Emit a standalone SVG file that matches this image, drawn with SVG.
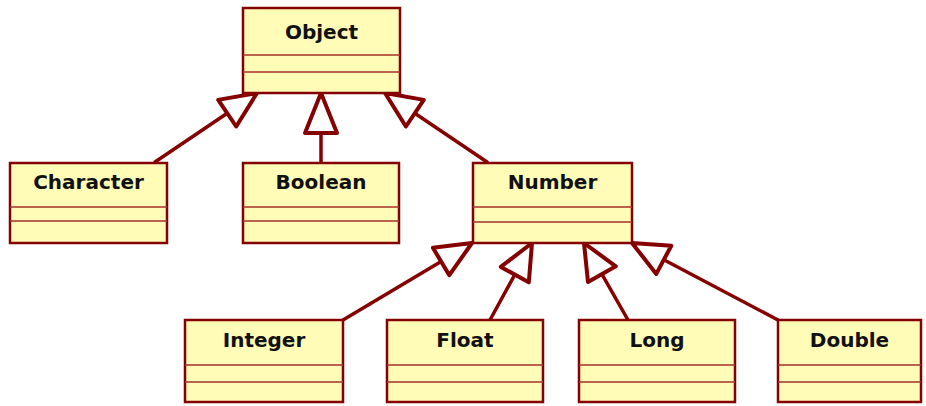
<svg xmlns="http://www.w3.org/2000/svg" width="926" height="406" viewBox="0 0 926 406">
<defs>
<style>
.box{fill:#FFFCB8;stroke:#850000;stroke-width:2.5}
.div{stroke:#A5302A;stroke-width:1.6;fill:none}
.t{font-family:"DejaVu Sans",Verdana,sans-serif;font-weight:bold;font-size:20px;fill:#111;text-anchor:middle}
.ln{stroke:#850000;stroke-width:3.5;fill:none;stroke-linecap:round}
.ah{stroke:#850000;stroke-width:4;fill:#fff;stroke-linejoin:round}
</style>
</defs>
<rect width="926" height="406" fill="#fff"/>
<g id="connectors">
<line class="ln" x1="155" y1="162" x2="227.2" y2="113.2"/>
<polygon class="ah" points="257,93 218.2,99.9 236.2,126.5"/>
<line class="ln" x1="321" y1="133" x2="321" y2="163"/>
<polygon class="ah" points="321,93 305,133 337,133"/>
<line class="ln" x1="487" y1="162" x2="414.8" y2="113.2"/>
<polygon class="ah" points="385,93 405.9,126.5 423.8,99.9"/>
<line class="ln" x1="343" y1="320" x2="441.1" y2="261.5"/>
<polygon class="ah" points="472,243 432.9,247.8 449.3,275.2"/>
<line class="ln" x1="490" y1="320" x2="514.8" y2="274.6"/>
<polygon class="ah" points="532,243 500.8,266.9 528.8,282.3"/>
<line class="ln" x1="628" y1="320" x2="601.9" y2="274.2"/>
<polygon class="ah" points="584,243 588,282.1 615.8,266.3"/>
<line class="ln" x1="778" y1="320" x2="663.8" y2="259.8"/>
<polygon class="ah" points="632,243 656.3,273.9 671.3,245.7"/>
</g>
<g id="Object">
<rect class="box" x="243" y="8" width="157" height="85"/>
<path class="div" d="M243 55H400M243 72H400"/>
<text class="t" x="321.5" y="39">Object</text>
</g>
<g id="Character">
<rect class="box" x="10" y="163" width="157" height="80"/>
<path class="div" d="M10 207H167M10 221H167"/>
<text class="t" x="88.5" y="189">Character</text>
</g>
<g id="Boolean">
<rect class="box" x="243" y="163" width="156" height="80"/>
<path class="div" d="M243 207H399M243 221H399"/>
<text class="t" x="321" y="189">Boolean</text>
</g>
<g id="Number">
<rect class="box" x="473" y="163" width="159" height="80"/>
<path class="div" d="M473 207H632M473 222H632"/>
<text class="t" x="552.5" y="189">Number</text>
</g>
<g id="Integer">
<rect class="box" x="185" y="320" width="158" height="82"/>
<path class="div" d="M185 365H343M185 382H343"/>
<text class="t" x="264" y="347">Integer</text>
</g>
<g id="Float">
<rect class="box" x="387" y="320" width="156" height="82"/>
<path class="div" d="M387 365H543M387 382H543"/>
<text class="t" x="465" y="347">Float</text>
</g>
<g id="Long">
<rect class="box" x="579" y="320" width="156" height="82"/>
<path class="div" d="M579 365H735M579 382H735"/>
<text class="t" x="657" y="347">Long</text>
</g>
<g id="Double">
<rect class="box" x="778" y="320" width="143" height="82"/>
<path class="div" d="M778 365H921M778 382H921"/>
<text class="t" x="849.5" y="347">Double</text>
</g>
</svg>
